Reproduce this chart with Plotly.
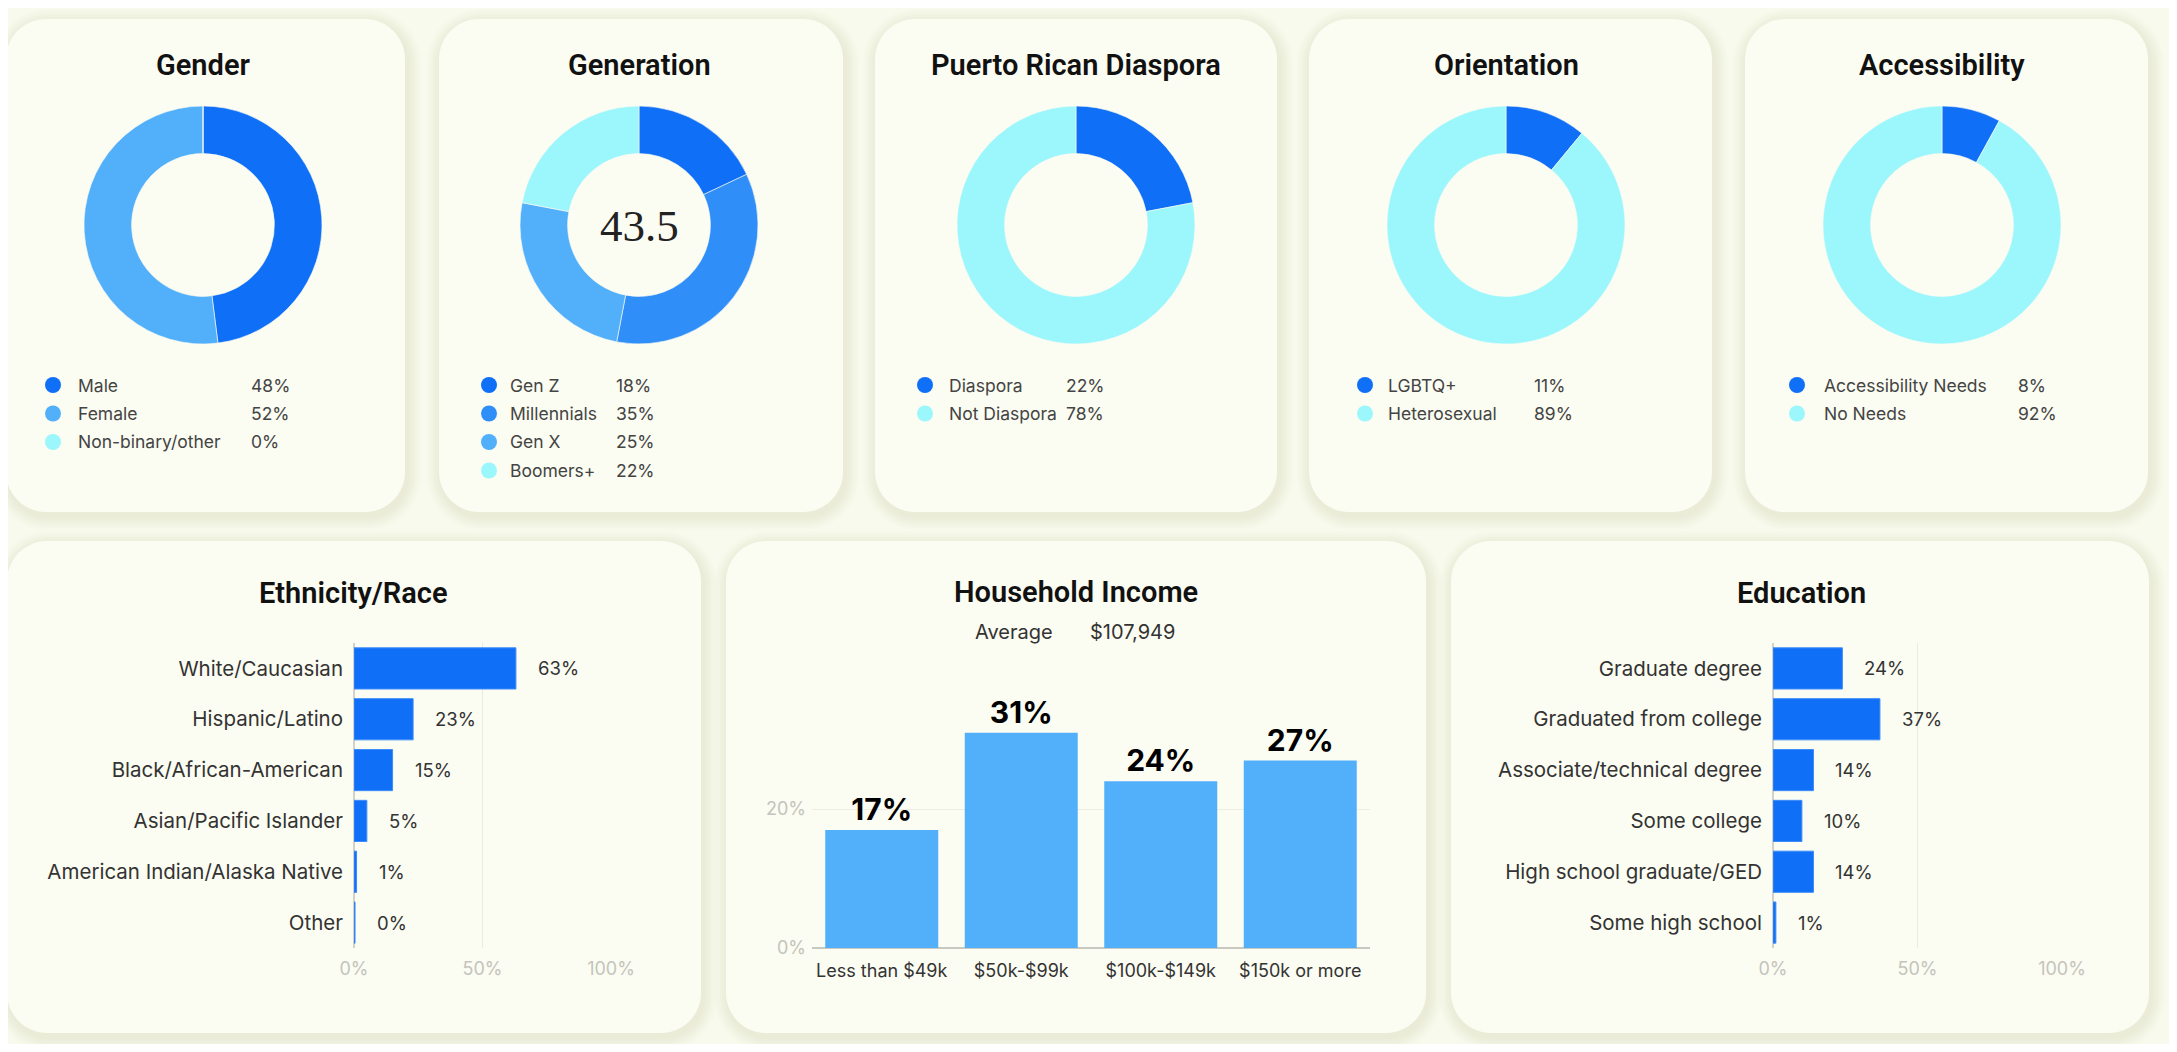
import plotly.graph_objects as go

# Window is 2177x1052; the page body keeps an 8px margin, so the figure is
# sized to fit inside it and all positions below are given in window pixels.
WIN_W, WIN_H = 2177, 1052
OX, OY = 8, 8
W, H = WIN_W - 2 * OX, WIN_H - 2 * OY

# ---------------- data ----------------
gender_labels = ["Male", "Female", "Non-binary/other"]
gender_values = [48, 52, 0]

gen_labels = ["Gen Z", "Millennials", "Gen X", "Boomers+"]
gen_values = [18, 35, 25, 22]
gen_center_value = "43.5"

diaspora_labels = ["Diaspora", "Not Diaspora"]
diaspora_values = [22, 78]

orient_labels = ["LGBTQ+", "Heterosexual"]
orient_values = [11, 89]

access_labels = ["Accessibility Needs", "No Needs"]
access_values = [8, 92]

eth_labels = ["White/Caucasian", "Hispanic/Latino", "Black/African-American",
              "Asian/Pacific Islander", "American Indian/Alaska Native", "Other"]
eth_values = [63, 23, 15, 5, 1, 0.4]

inc_labels = ["Less than $49k", "$50k-$99k", "$100k-$149k", "$150k or more"]
inc_values = [17, 31, 24, 27]
inc_average = "$107,949"

edu_labels = ["Graduate degree", "Graduated from college", "Associate/technical degree",
              "Some college", "High school graduate/GED", "Some high school"]
edu_values = [24, 37, 14, 10, 14, 1]

pct_ticks = [0, 50, 100]
pct_tick_text = ["0%", "50%", "100%"]
inc_ticks = [0, 20]
inc_tick_text = ["0%", "20%"]

# ---------------- style ----------------
DARK = "#0f6ff7"
MID = "#2f8ef8"
LIGHT = "#52b0fb"
CYAN = "#9cf7fd"
PAGE = "#f8faed"
CARD = "#fbfcf2"
TFONT = "Roboto, sans-serif"
FONT = "Inter, Roboto, sans-serif"
TITLE_C = "#111111"
TEXT_C = "#444444"
GRAY = "#c4c4bc"


def px(x):
    return (x - OX) / W


def py(y):
    return 1 - (y - OY) / H


fig = go.Figure()
shapes = []
annotations = []


def rounded_rect(x0, y0, x1, y1, r):
    k = 0.45
    pts = [
        f"M {px(x0 + r)},{py(y0)}",
        f"L {px(x1 - r)},{py(y0)}",
        f"C {px(x1 - r * k)},{py(y0)} {px(x1)},{py(y0 + r * k)} {px(x1)},{py(y0 + r)}",
        f"L {px(x1)},{py(y1 - r)}",
        f"C {px(x1)},{py(y1 - r * k)} {px(x1 - r * k)},{py(y1)} {px(x1 - r)},{py(y1)}",
        f"L {px(x0 + r)},{py(y1)}",
        f"C {px(x0 + r * k)},{py(y1)} {px(x0)},{py(y1 - r * k)} {px(x0)},{py(y1 - r)}",
        f"L {px(x0)},{py(y0 + r)}",
        f"C {px(x0)},{py(y0 + r * k)} {px(x0 + r * k)},{py(y0)} {px(x0 + r)},{py(y0)}",
        "Z",
    ]
    return " ".join(pts)


def card(x0, y0, x1, y1, r=40):
    for i in range(7, 0, -1):
        g = i * 2.0
        shapes.append(dict(type="path", xref="paper", yref="paper", layer="below",
                           path=rounded_rect(x0 - g + 2, y0 - g + 4, x1 + g + 2, y1 + g + 4, r + g),
                           fillcolor="rgba(120,125,90,0.014)", line=dict(width=0)))
    shapes.append(dict(type="path", xref="paper", yref="paper", layer="below",
                       path=rounded_rect(x0, y0, x1, y1, r),
                       fillcolor=CARD, line=dict(width=0)))


# cards (window pixel coordinates)
top_cards = [(6, 19, 405, 512), (439, 19, 843, 512), (875, 19, 1277, 512),
             (1309, 19, 1712, 512), (1745, 19, 2148, 512)]
bot_cards = [(7, 541, 701, 1033), (726, 541, 1426, 1033), (1451, 541, 2149, 1033)]
for c in top_cards + bot_cards:
    card(*c)


def title(x, y, text, size=29):
    annotations.append(dict(x=px(x), y=py(y), xref="paper", yref="paper", text=text,
                            showarrow=False, xanchor="center", yanchor="middle",
                            font=dict(family=TFONT, size=size, color=TITLE_C, weight=600)))


def text_at(x, y, text, size=17.5, color=TEXT_C, anchor="left"):
    annotations.append(dict(x=px(x), y=py(y), xref="paper", yref="paper", text=text,
                            showarrow=False, xanchor=anchor, yanchor="middle",
                            font=dict(family=FONT, size=size, color=color)))


# ---------------- donuts ----------------
donuts = [
    ("Gender", gender_labels, gender_values, [DARK, LIGHT, CYAN], 203, (53, 76, 249)),
    ("Generation", gen_labels, gen_values, [DARK, MID, LIGHT, CYAN], 639, (489, 508, 614)),
    ("Puerto Rican Diaspora", diaspora_labels, diaspora_values, [DARK, CYAN], 1076, (925, 947, 1064)),
    ("Orientation", orient_labels, orient_values, [DARK, CYAN], 1506, (1365, 1386, 1532)),
    ("Accessibility", access_labels, access_values, [DARK, CYAN], 1942, (1797, 1822, 2016)),
]
CY, R = 225, 119
for name, labels, values, colors, cx, (dx, tx, vx) in donuts:
    fig.add_trace(go.Pie(
        labels=labels, values=values, hole=0.6, sort=False, direction="clockwise",
        rotation=0, textinfo="none", showlegend=False, hoverinfo="label+percent",
        automargin=False,
        marker=dict(colors=colors, line=dict(color=CARD, width=0.6)),
        domain=dict(x=[px(cx - R), px(cx + R)], y=[py(CY + R), py(CY - R)]),
    ))
    title(cx, 65, name)
    for i, (lab, val) in enumerate(zip(labels, values)):
        yy = 385 + i * 28.5
        shapes.append(dict(type="circle", xref="paper", yref="paper", layer="above",
                           x0=px(dx - 8), x1=px(dx + 8), y0=py(yy + 8), y1=py(yy - 8),
                           fillcolor=colors[i], line=dict(width=0)))
        text_at(tx, yy, lab)
        text_at(vx, yy, f"{val}%")

annotations.append(dict(x=px(639), y=py(226), xref="paper", yref="paper", text=gen_center_value,
                        showarrow=False, xanchor="center", yanchor="middle",
                        font=dict(family="Liberation Serif, DejaVu Serif, serif", size=45, color="#222222")))

# ---------------- Ethnicity ----------------
fig.add_trace(go.Bar(x=eth_values, y=eth_labels, orientation="h", xaxis="x", yaxis="y",
                     marker=dict(color=DARK, line=dict(color="#3d8cf9", width=1)),
                     width=0.81, showlegend=False, hoverinfo="x+y"))
for lab, val in zip(eth_labels, eth_values):
    annotations.append(dict(x=val, y=lab, xref="x", yref="y", text=f"{round(val)}%",
                            showarrow=False, xanchor="left", yanchor="middle", xshift=20,
                            font=dict(family=FONT, size=18.5, color="#333333")))
title(353, 593, "Ethnicity/Race")

# ---------------- Household income ----------------
fig.add_trace(go.Bar(x=inc_labels, y=inc_values, xaxis="x2", yaxis="y2",
                     marker=dict(color=LIGHT, line=dict(width=0)), width=0.81,
                     text=[f"{v}%" for v in inc_values], textposition="outside",
                     textfont=dict(family=FONT, size=30, color="#000000", weight=700),
                     cliponaxis=False, showlegend=False, hoverinfo="x+y"))
title(1076, 592, "Household Income")
text_at(1014, 632, "Average", size=20, color="#333333", anchor="center")
text_at(1088, 632, inc_average, size=20, color="#333333", anchor="left")

# ---------------- Education ----------------
fig.add_trace(go.Bar(x=edu_values, y=edu_labels, orientation="h", xaxis="x3", yaxis="y3",
                     marker=dict(color=DARK, line=dict(color="#3d8cf9", width=1)),
                     width=0.81, showlegend=False, hoverinfo="x+y"))
for lab, val in zip(edu_labels, edu_values):
    annotations.append(dict(x=val, y=lab, xref="x3", yref="y3", text=f"{val}%",
                            showarrow=False, xanchor="left", yanchor="middle", xshift=20,
                            font=dict(family=FONT, size=18.5, color="#333333")))
title(1801, 593, "Education")

hbar_x = dict(range=[0, 100], tickvals=pct_ticks, ticktext=pct_tick_text, showgrid=True,
              gridcolor="#ebebdf", gridwidth=1, zeroline=True, zerolinecolor="#d2d2ca",
              zerolinewidth=1.5, showline=False, ticks="", ticklabelstandoff=8,
              automargin=False,
              tickfont=dict(family=FONT, size=18, color=GRAY), fixedrange=True)
hbar_y = dict(type="category", range=[5.5, -0.5], showgrid=False, zeroline=False,
              showline=False, ticks="", ticklabelstandoff=10, automargin=False,
              tickfont=dict(family=FONT, size=20.5, color="#333333"), fixedrange=True)

fig.update_layout(
    template="none",
    width=W, height=H, autosize=False,
    margin=dict(l=0, r=0, t=0, b=0, pad=0, autoexpand=False),
    paper_bgcolor=PAGE, plot_bgcolor="rgba(0,0,0,0)",
    font=dict(family=FONT, color="#333333"),
    showlegend=False,
    xaxis=dict(domain=[px(354), px(611)], anchor="y", **hbar_x),
    yaxis=dict(domain=[py(948), py(643)], anchor="x", **hbar_y),
    xaxis3=dict(domain=[px(1773), px(2062)], anchor="y3", **hbar_x),
    yaxis3=dict(domain=[py(948), py(643)], anchor="x3", **hbar_y),
    xaxis2=dict(domain=[px(812), px(1370)], anchor="y2", type="category", showgrid=False,
                zeroline=False, showline=False, ticks="", ticklabelstandoff=10,
                automargin=False,
                tickfont=dict(family=FONT, size=18, color="#333333"), fixedrange=True),
    yaxis2=dict(domain=[py(948), py(698)], anchor="x2", range=[0, 36], tickvals=inc_ticks,
                ticktext=inc_tick_text, showgrid=True, gridcolor="#edede2", zeroline=True,
                zerolinecolor="#c9c9c2", zerolinewidth=2, showline=False, ticks="",
                ticklabelstandoff=5, automargin=False,
                tickfont=dict(family=FONT, size=18, color=GRAY), fixedrange=True),
    shapes=shapes,
    annotations=annotations,
    bargap=0.19,
)

fig.write_html("out.html")
